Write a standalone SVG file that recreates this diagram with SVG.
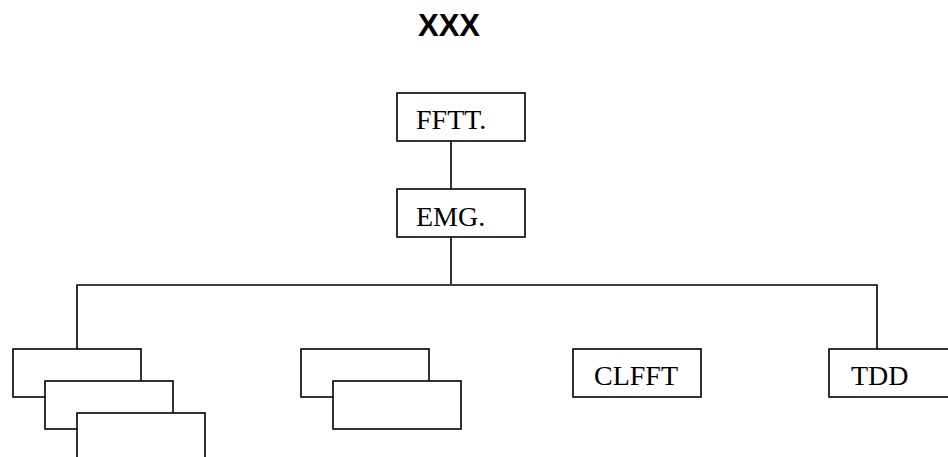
<svg xmlns="http://www.w3.org/2000/svg" width="948" height="457" viewBox="0 0 948 457">
<style>
.box{fill:#fff;stroke:#000;stroke-width:1.6}
.lbl{font-family:"Liberation Serif","Times New Roman",serif;font-size:28px;fill:#000}
.ttl{font-family:"Liberation Sans",Arial,sans-serif;font-size:31px;font-weight:bold;fill:#000}
.conn{fill:none;stroke:#000;stroke-width:1.6}
</style>
<rect width="948" height="457" fill="#fff"/>
<text class="ttl" x="449" y="36" text-anchor="middle">XXX</text>
<g id="connectors">
<line class="conn" x1="451" y1="141" x2="451" y2="190"/>
<line class="conn" x1="451" y1="237" x2="451" y2="284"/>
<polyline class="conn" points="77,349 77,285 877,285 877,349"/>
</g>
<g id="fftt"><rect class="box" x="397" y="93" width="128" height="48"/><text class="lbl" x="416" y="129">FFTT.</text></g>
<g id="emg"><rect class="box" x="397" y="189" width="128" height="48"/><text class="lbl" x="416" y="226">EMG.</text></g>
<g id="left-stack">
<rect class="box" x="13" y="349" width="128" height="48"/>
<rect class="box" x="45" y="381" width="128" height="48"/>
<rect class="box" x="77" y="413" width="128" height="48"/>
</g>
<g id="mid-stack">
<rect class="box" x="301" y="349" width="128" height="48"/>
<rect class="box" x="333" y="381" width="128" height="48"/>
</g>
<g id="clfft"><rect class="box" x="573" y="349" width="128" height="48"/><text class="lbl" x="594" y="385">CLFFT</text></g>
<g id="tdd"><rect class="box" x="829" y="349" width="128" height="48"/><text class="lbl" x="851" y="385">TDD</text></g>
</svg>
